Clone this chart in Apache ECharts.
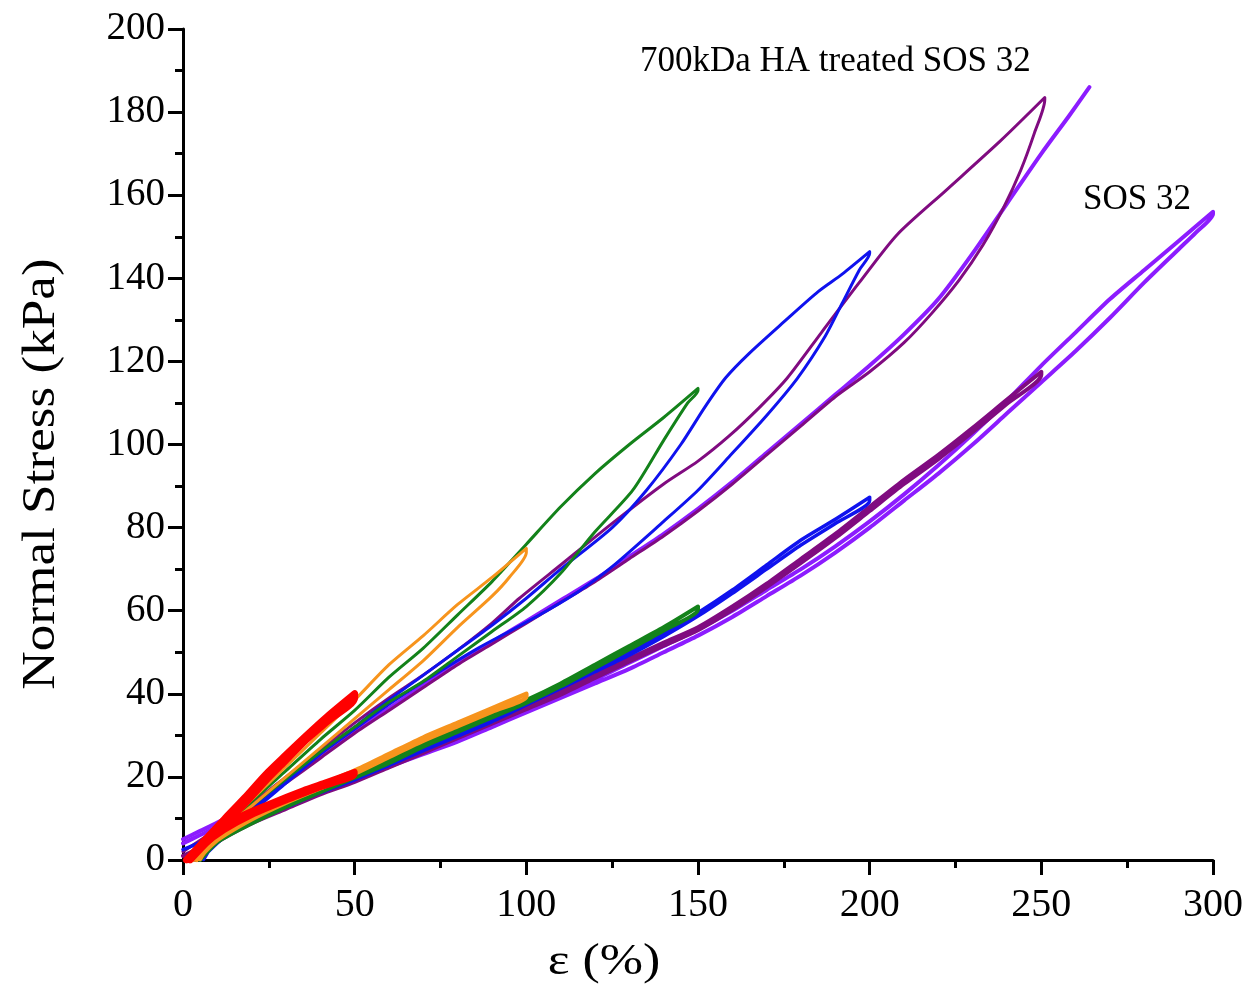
<!DOCTYPE html>
<html>
<head>
<meta charset="utf-8">
<script src="https://cdn.jsdelivr.net/npm/echarts@6/dist/echarts.min.js"></script>
<style>
html,body{margin:0;padding:0;background:#fff;}
#chart{width:1249px;height:1007px;}
</style>
</head>
<body>
<div id="chart"></div>
<script>
// ---- Data: [strain %, normal stress kPa]; each curve = loading then unloading ----
// 700kDa HA treated SOS 32
const haRed = [[1,0],[6,4.5],[12,9.8],[18,15],[24,20.5],[30,25.3],[36,30],[42,34.5],[50,40],
  [50,39],[42,33.3],[36,29],[30,24],[24,19],[18,13.5],[12,8.5],[6,3.5],[2,0]];
const haOrange = [[3,0],[10,6],[20,14.5],[30,22.5],[40,30.5],[50,38.5],[60,47],[70,54],[80,61.5],[90,68],[100,75],
  [100,74],[95,68],[90,63.5],[80,56],[70,48],[60,41],[50,34],[40,27],[30,20],[20,13],[10,6],[5,0]];
const haGreen = [[4,0],[10,6],[20,14],[30,21.5],[40,29],[50,36],[60,44],[70,51],[80,59],[90,67],[100,76],[110,85],[120,93],[130,100],[140,106.5],[150,113.5],
  [150,113],[147,110],[140,101],[131,89],[120,79],[110,69],[100,61],[90,55],[80,49],[70,43],[60,38],[50,32],[40,26],[30,19.5],[20,13],[10,6],[5,0]];
const haBlue = [[5,0],[10,4],[20,11.5],[30,18.5],[40,25.5],[50,32],[60,38.5],[70,44.5],[80,50.5],[90,56.5],[100,63],[110,70],[125,80],[135,89],[145,100],[152,109],[158,116],[165,122],[175,129.5],[185,136.8],[192,141],[200,146.4],
  [200,146],[197,142],[192,134],[187,126],[179,116],[170,107],[159,97],[150,89],[140,81.5],[125,70.6],[115,64.5],[106,60],[95,55],[86,51],[75,45.5],[60,37.5],[50,31.5],[40,25.5],[30,19],[20,12],[10,5],[6,0]];
const haPurple = [[0,2],[10,7.5],[20,13.5],[30,20],[40,26.5],[50,33],[60,39],[70,44.5],[80,50.5],[90,57],[98,63],[110,71],[125,81],[140,90.5],[150,96],[159,102],[168,109],[176,116],[186,127],[197,139],[208,150.5],[222,161],[238,173],[251,183.5],
  [251,183],[248,175],[244,166],[239,157],[233,148],[226,139.5],[218,131.5],[210,124.5],[200,117.5],[190,111.5],[180,104.5],[170,97.5],[160,90.5],[150,84],[140,78],[130,72.5],[120,67],[110,62],[100,57],[90,52],[80,47],[70,41.5],[60,36],[50,30.5],[40,24.5],[30,18.5],[20,12.5],[10,6.5],[4,0]];
const haViolet = [[0,5],[5,7],[10,9],[20,13.5],[30,19],[40,25],[50,31],[60,36.5],[70,42],[80,47.5],[90,52.5],[100,57.5],[110,62.5],[120,67.5],[130,73],[140,78.5],[150,84.5],[160,91],[170,98],[180,105],[190,112],[200,119],[210,126.5],[220,135],[230,146],[240,158],[250,170],[258,179],[264,186]];

// SOS 32
const sosRed = [[1,0],[8,5],[15,9.8],[25,13.5],[35,16.8],[42,18.8],[50,21.2],
  [50,20.6],[40,17.5],[30,14.3],[20,10.8],[12,7.2],[6,3.5],[2,0]];
const sosOrange = [[3,0],[10,5.5],[20,10.5],[30,14.5],[40,18],[50,21.5],[60,25.5],[70,29.5],[80,33],[90,36.5],[100,40],
  [100,39.3],[90,35.7],[80,32.2],[70,28.7],[60,24.8],[50,20.8],[40,17.3],[30,13.8],[20,9.8],[10,4.8],[4,0]];
const sosGreen = [[4,0],[10,5],[20,9.5],[30,13.5],[40,17],[50,20.5],[60,24],[70,28],[80,31.5],[90,35],[100,38.5],[110,42.5],[120,47],[130,51.5],[140,56],[150,61],
  [150,60.3],[140,55.2],[130,50.7],[120,46.2],[110,41.8],[100,37.8],[90,34.3],[80,30.8],[70,27.3],[60,23.3],[50,19.8],[40,16.3],[30,12.8],[20,8.8],[10,4.3],[5,0]];
const sosBlue = [[0,2.5],[10,6],[20,10],[30,13.5],[40,17],[50,20],[60,23.5],[70,27],[80,30.5],[90,34],[100,38],[110,42],[120,46],[130,50],[140,54.5],[150,59.5],[160,65],[170,71],[180,77],[190,82],[200,87.3],
  [200,86.5],[190,81],[180,75.8],[170,70],[160,64.2],[150,58.7],[140,53.8],[130,49.3],[120,45.3],[110,41.3],[100,37.3],[90,33.3],[80,29.8],[70,26.3],[60,22.8],[50,19.3],[40,16.2],[30,12.7],[20,9.2],[10,5],[5,0]];
const sosPurple = [[0,1],[10,5],[20,9.5],[30,13],[40,16.5],[50,19.5],[60,23],[70,26.5],[80,30],[90,33.5],[100,37],[110,40.5],[120,44.5],[130,48.5],[140,52.3],[150,56],[160,61],[170,66.5],[180,72.5],[190,78.5],[200,85],[210,91.5],[220,97.5],[230,104],[240,110.8],[250,117.5],
  [250,116.8],[240,109.8],[230,103],[220,96.5],[210,90.5],[200,84],[190,77.5],[180,71.5],[170,65.7],[160,60.2],[150,55.3],[140,51.6],[130,47.8],[120,43.8],[110,39.8],[100,36.3],[90,32.8],[80,29.3],[70,25.8],[60,22.3],[50,18.8],[40,15.8],[30,12.3],[20,8.8],[10,4.3],[4,0]];
const sosViolet = [[0,4],[5,6],[10,8],[20,11.5],[30,14.5],[40,17.5],[50,20.5],[60,23.5],[70,26.5],[80,30],[90,33],[100,36.5],[110,40],[120,43.5],[130,47.5],[140,51.5],[150,55.5],[160,60],[170,65],[180,70],[190,75.5],[200,81.5],[210,88],[220,95],[230,102.5],[240,110.5],[250,119],[260,127],[270,135],[280,142],[290,149],[300,156],
  [300,155.5],[295,151],[290,147],[280,139],[270,130.5],[260,122.5],[250,115],[240,107.5],[230,100],[220,93],[210,86.5],[200,80],[190,74],[180,68.5],[170,63.5],[160,58.5],[150,54],[140,50],[130,46],[120,42.5],[110,39],[100,35.5],[90,32],[80,28.5],[70,25.5],[60,22.5],[50,19.5],[40,16.5],[30,13],[20,9.5],[10,5],[5,2.5],[3,0]];

const xTicks = {min:0, max:300, interval:50};
const yTicks = {min:0, max:200, interval:20};
const xTitle = 'ε (%)';
const yTitle = 'Normal Stress (kPa)';
const labelHA = '700kDa HA treated SOS 32';
const labelSOS = 'SOS 32';

const COLORS = {red:'#ff0000', orange:'#f7941d', green:'#13821a', blue:'#0f12ee', purple:'#800b80', violet:'#8c1cff'};
const FONT = 'Liberation Serif';

function mk(name, data, color, width){
  return {name:name, type:'line', data:data, showSymbol:false, symbol:'none', smooth:0.25,
    lineStyle:{color:color, width:width, cap:'round', join:'round'}, silent:true, z:2};
}

const series = [
  mk('SOS violet', sosViolet, COLORS.violet, 4),
  mk('SOS purple', sosPurple, COLORS.purple, 4),
  mk('HA violet', haViolet, COLORS.violet, 4),
  mk('HA purple', haPurple, COLORS.purple, 3),
  mk('SOS blue', sosBlue, COLORS.blue, 3.5),
  mk('HA blue', haBlue, COLORS.blue, 3),
  mk('SOS green', sosGreen, COLORS.green, 4),
  mk('HA green', haGreen, COLORS.green, 3),
  mk('SOS orange', sosOrange, COLORS.orange, 4.5),
  mk('HA orange', haOrange, COLORS.orange, 3),
  mk('SOS red', sosRed, COLORS.red, 6),
  mk('HA red', haRed, COLORS.red, 7)
];

const axisCommon = {
  type:'value',
  axisLine:{show:true, onZero:false, lineStyle:{color:'#000', width:3}},
  axisTick:{show:true, inside:false, length:15, lineStyle:{color:'#000', width:3}},
  minorTick:{show:true, splitNumber:2, length:8, lineStyle:{color:'#000', width:3}},
  splitLine:{show:false},
  minorSplitLine:{show:false}
};

const chart = echarts.init(document.getElementById('chart'), null, {renderer:'canvas'});
chart.setOption({
  animation:false,
  backgroundColor:'#fff',
  grid:{left:183, right:36, top:29, bottom:147, containLabel:false},
  xAxis: Object.assign({}, axisCommon, {
    min:xTicks.min, max:xTicks.max, interval:xTicks.interval,
    axisLabel:{color:'#000', fontFamily:FONT, fontSize:40, margin:25}
  }),
  yAxis: Object.assign({}, axisCommon, {
    min:yTicks.min, max:yTicks.max, interval:yTicks.interval,
    axisLabel:{color:'#000', fontFamily:FONT, fontSize:39, margin:18}
  }),
  graphic:[
    {type:'text', x:604, y:962, scaleX:1.18, silent:true,
      style:{text:xTitle, fill:'#000', font:'44px "Liberation Serif"', textAlign:'center', textVerticalAlign:'middle', align:'center', verticalAlign:'middle'}},
    {type:'text', x:42, y:474, rotation:Math.PI/2, scaleX:1.156, silent:true,
      style:{text:yTitle, fill:'#000', font:'46px "Liberation Serif"', textAlign:'center', textVerticalAlign:'middle', align:'center', verticalAlign:'middle'}},
    {type:'text', left:640, top:44, silent:true, style:{text:labelHA, fill:'#000', font:'35px "Liberation Serif"'}},
    {type:'text', left:1083, top:182, silent:true, style:{text:labelSOS, fill:'#000', font:'35px "Liberation Serif"'}}
  ],
  series: series
});
</script>
</body>
</html>
